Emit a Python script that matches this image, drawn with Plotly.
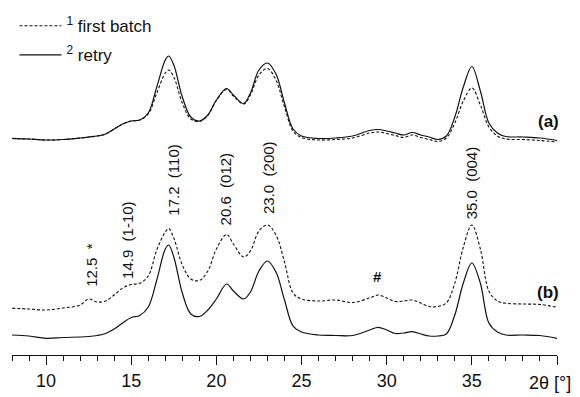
import plotly.graph_objects as go

# 2-theta grid (degrees)
two_theta = [8, 9, 10, 11, 12, 12.5, 13, 13.5, 14, 14.5, 15, 15.5, 16, 16.5, 17, 17.2, 17.5, 18, 18.5, 19,
             19.5, 20, 20.6, 21, 21.6, 22, 22.5, 23, 23.5, 24, 24.5, 25, 26, 27, 28, 29, 29.5, 30, 30.5, 31,
             31.5, 32, 32.5, 33, 33.5, 34, 34.5, 35, 35.5, 36, 36.5, 37, 38, 39, 40]

# (a) patterns (offset intensities, a.u.)
a_retry = [216.7, 216, 215, 215.5, 217, 218, 219, 221, 226, 231,
           234, 235, 242, 268, 295, 299, 290, 258, 238, 234,
           240, 255, 266.5, 260, 251.5, 262, 285, 292, 281, 252,
           226, 219, 216.5, 217, 219, 224.5, 225.5, 224, 222, 220,
           222.5, 220, 218, 215.5, 219, 238, 268, 288.5, 264, 232,
           222, 218.5, 218, 217, 214.5]
a_first = [216.5, 216, 215, 215.5, 217, 218, 219, 221, 226, 231,
           234, 235, 241, 262, 282, 285, 278, 252, 236, 233.5,
           239.5, 254.5, 265.5, 259, 251, 260, 280, 286.5, 275, 248,
           224, 217.5, 215, 215.5, 217, 222, 223, 221.5, 219.5, 217.5,
           220, 217.5, 215.5, 213.5, 217, 232, 254, 267, 250, 228,
           219, 216, 215.5, 214.5, 213]

# (b) patterns
b_first = [46.7, 46, 45, 47, 50, 56, 53, 54, 60, 67,
           70.5, 71.7, 79, 105, 123, 126.5, 117, 90, 76, 74.5,
           84, 106, 120.5, 111, 98, 104, 124, 130, 120, 93,
           62, 56, 54, 55, 52.5, 57, 60, 57, 53.5, 54,
           55, 52, 48.5, 48.5, 52, 72, 108, 130, 106, 64,
           54, 51.7, 51, 50.5, 47.7]
b_retry = [20, 19, 16.7, 17.5, 18, 18.5, 19.5, 21.5, 26, 32,
           37.5, 39.5, 48, 75, 106, 110, 98, 62, 41, 38.5,
           45, 56, 71, 64, 56, 63, 84, 94, 83, 55,
           29, 23, 20, 19.5, 19.5, 25, 27.7, 25, 21.5, 22,
           23.3, 21, 19, 19, 21, 40, 72, 92, 71.7, 32,
           23, 20, 20, 19.5, 16.7]

# Peak annotations
peak_labels = ["12.5  *", "14.9  (1-10)", "17.2  (110)", "20.6  (012)", "23.0  (200)", "35.0  (004)"]
peak_label_x = [12.67, 14.75, 17.48, 20.52, 23.06, 35.0]
peak_label_y = [66.7, 75, 138.3, 128.3, 140, 135]

# tick labels
tick_vals = [10, 15, 20, 25, 30, 35, 40]
tick_text = ["10", "15", "20", "25", "30", "35", ""]

FONT = "Liberation Sans, Arial, sans-serif"
INK = "#111111"
DASH = "3px,2px"

fig = go.Figure()
fig.add_trace(go.Scatter(x=two_theta, y=a_first, mode="lines", name="<sup>1</sup> first batch",
                         legendgroup="g1",
                         line=dict(color=INK, width=1.1, dash=DASH, shape="spline", smoothing=1.0)))
fig.add_trace(go.Scatter(x=two_theta, y=a_retry, mode="lines", name="<sup>2</sup> retry",
                         legendgroup="g2",
                         line=dict(color=INK, width=1.2, shape="spline", smoothing=1.0)))
fig.add_trace(go.Scatter(x=two_theta, y=b_first, mode="lines", showlegend=False, legendgroup="g1",
                         line=dict(color=INK, width=1.1, dash=DASH, shape="spline", smoothing=1.0)))
fig.add_trace(go.Scatter(x=two_theta, y=b_retry, mode="lines", showlegend=False, legendgroup="g2",
                         line=dict(color=INK, width=1.2, shape="spline", smoothing=1.0)))

for txt, xv, yv in zip(peak_labels, peak_label_x, peak_label_y):
    fig.add_annotation(x=xv, y=yv, text=txt, textangle=-90, showarrow=False,
                       xanchor="center", yanchor="bottom", borderpad=0,
                       font=dict(family=FONT, size=15, color=INK))

fig.add_annotation(x=29.45, y=78.3, text="<b>#</b>", showarrow=False, xanchor="center", yanchor="middle",
                   font=dict(family=FONT, size=15, color=INK))
fig.add_annotation(x=39.49, y=234, text="<b>(a)</b>", showarrow=False, xanchor="center", yanchor="middle",
                   font=dict(family=FONT, size=17, color=INK))
fig.add_annotation(x=39.49, y=62.5, text="<b>(b)</b>", showarrow=False, xanchor="center", yanchor="middle",
                   font=dict(family=FONT, size=17, color=INK))
fig.add_annotation(xref="paper", yref="paper", x=1.03, y=0, xanchor="right", yanchor="top", yshift=-16,
                   text="2θ [°]", showarrow=False, font=dict(family=FONT, size=18, color=INK))

fig.update_layout(
    width=580, height=397,
    margin=dict(l=12, r=23, t=0, b=42, autoexpand=False),
    paper_bgcolor="white", plot_bgcolor="white",
    font=dict(family=FONT, size=18, color=INK),
    showlegend=True,
    legend=dict(x=0.0045, y=0.977, xanchor="left", yanchor="top", bgcolor="rgba(0,0,0,0)",
                font=dict(family=FONT, size=17, color=INK), itemwidth=42, tracegroupgap=4),
    xaxis=dict(range=[8, 40], showgrid=False, zeroline=False, showline=True, linecolor=INK, linewidth=1,
               ticks="outside", ticklen=9, tickwidth=1, tickcolor=INK,
               tickvals=tick_vals, ticktext=tick_text,
               tickfont=dict(family=FONT, size=18, color=INK),
               minor=dict(tickmode="linear", tick0=8, dtick=1, ticks="outside", ticklen=5, tickcolor=INK, tickwidth=1)),
    yaxis=dict(range=[0, 355], visible=False, showgrid=False, zeroline=False),
)

fig.write_html("out.html", config={"displayModeBar": False},
               post_script="document.body.style.margin='0';")
